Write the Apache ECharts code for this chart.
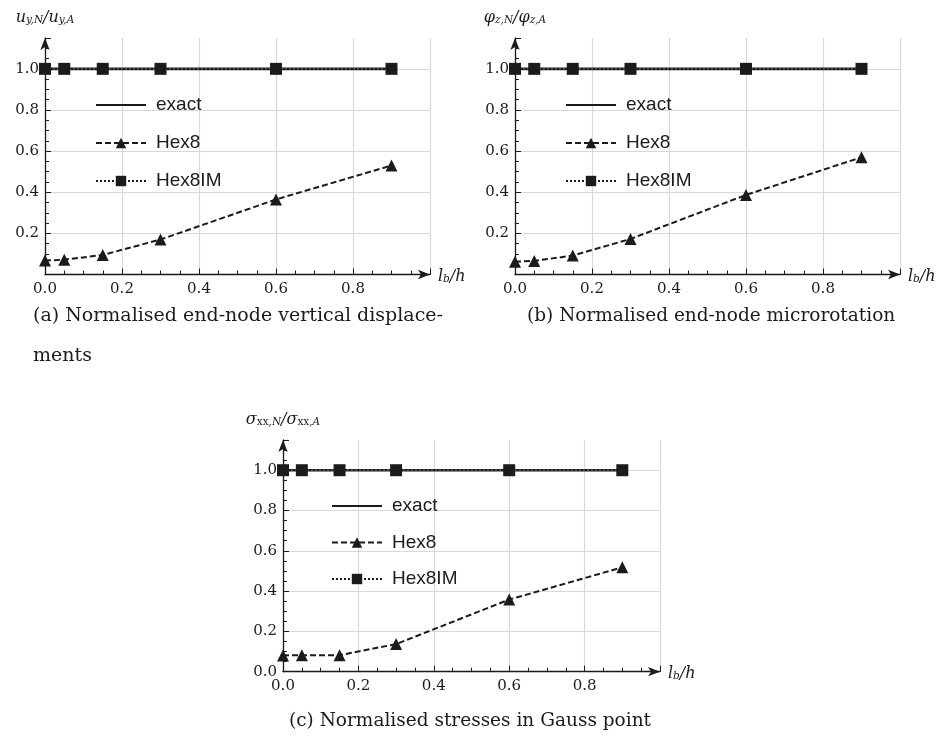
<!DOCTYPE html>
<html>
<head>
<meta charset="utf-8">
<script src="https://cdn.jsdelivr.net/npm/echarts@6/dist/echarts.min.js"></script>
<style>
html,body{margin:0;padding:0;background:#fff;}
#chart{width:937px;height:737px;}
</style>
</head>
<body>
<div id="chart"></div>
<script>
// ---- data ----
const xValues = [0, 0.05, 0.15, 0.3, 0.6, 0.9];
const exactValues = [1, 1, 1, 1, 1, 1];
const hex8IMValues = [1, 1, 1, 1, 1, 1];
const hex8ValuesA = [0.068, 0.072, 0.095, 0.17, 0.365, 0.53];
const hex8ValuesB = [0.062, 0.066, 0.092, 0.173, 0.387, 0.57];
const hex8ValuesC = [0.081, 0.082, 0.082, 0.137, 0.358, 0.518];
const seriesNames = ['exact', 'Hex8', 'Hex8IM'];
const captions = [
  '(a) Normalised end-node vertical displace-\nments',
  '(b) Normalised end-node microrotation',
  '(c) Normalised stresses in Gauss point'
];
const xTickInterval = 0.2;
const yTickInterval = 0.2;

const INK = '#1b1b1b';
const GRID = '#d9d9d9';

function pairs(xs, ys) { return xs.map((x, i) => [x, ys[i]]); }

const richName = {
  i: { fontFamily: 'DejaVu Serif', fontStyle: 'italic', fontSize: 16, color: INK, lineHeight: 20, verticalAlign: 'bottom' },
  r: { fontFamily: 'DejaVu Serif', fontSize: 16, color: INK, lineHeight: 20, verticalAlign: 'bottom' },
  s: { fontFamily: 'DejaVu Serif', fontStyle: 'italic', fontSize: 10.5, color: INK, lineHeight: 13, verticalAlign: 'bottom' },
  sr: { fontFamily: 'DejaVu Serif', fontSize: 10.5, color: INK, lineHeight: 13, verticalAlign: 'bottom' }
};

const yNames = [
  '{i|u}{s|y,N}{i|/u}{s|y,A}',
  '{i|φ}{s|z,N}{i|/φ}{s|z,A}',
  '{i|σ}{sr|xx,}{s|N}{i|/σ}{sr|xx,}{s|A}'
];

const grids = [
  { left: 45, top: 38, width: 385, height: 236.5 },
  { left: 515, top: 38, width: 385, height: 236.5 },
  { left: 283, top: 440, width: 377, height: 231.7 }
];

const xAxes = [], yAxes = [], series = [], legends = [], titles = [];
const hex8Sets = [hex8ValuesA, hex8ValuesB, hex8ValuesC];
const legendPos = [
  { left: 95, top: 95.5, itemGap: 19 },
  { left: 565, top: 95.5, itemGap: 19 },
  { left: 331, top: 496.5, itemGap: 17.5 }
];
const captionPos = [
  { left: 33, top: 296, size: 19 },
  { left: 527, top: 296, size: 18.5 },
  { left: 289, top: 701, size: 18.5 }
];

for (let k = 0; k < 3; k++) {
  xAxes.push({
    gridIndex: k, type: 'value', min: 0, max: 1.0, interval: xTickInterval,
    name: '{i|l}{s|b}{i|/h}', nameLocation: 'end', nameGap: 8,
    nameTextStyle: { rich: richName },
    axisLine: { show: true, onZero: false, symbol: ['none', 'arrow'], symbolSize: [7, 12], symbolOffset: [0, 0],
      lineStyle: { color: INK, width: 1.3 } },
    axisTick: { show: true, inside: true, length: 6, lineStyle: { color: INK, width: 1 } },
    minorTick: { show: true, splitNumber: 4, length: 4, lineStyle: { color: INK, width: 1 } },
    splitLine: { show: true, lineStyle: { color: GRID, width: 1.2 } },
    axisLabel: { showMaxLabel: false, margin: 7, color: INK, fontFamily: 'DejaVu Serif', fontSize: 15,
      formatter: v => v.toFixed(1) }
  });
  yAxes.push({
    gridIndex: k, type: 'value', min: 0, max: 1.15, interval: yTickInterval,
    name: yNames[k], nameLocation: 'end', nameGap: 12,
    nameTextStyle: { rich: richName },
    axisLine: { show: true, onZero: false, symbol: ['none', 'arrow'], symbolSize: [7, 12], symbolOffset: [0, 0],
      lineStyle: { color: INK, width: 1.3 } },
    axisTick: { show: true, inside: true, length: 6, lineStyle: { color: INK, width: 1 } },
    minorTick: { show: true, splitNumber: 4, length: 4, lineStyle: { color: INK, width: 1 } },
    splitLine: { show: true, lineStyle: { color: [GRID, GRID, GRID, GRID, GRID, GRID, 'rgba(0,0,0,0)'], width: 1.2 } },
    axisLabel: { showMinLabel: k === 2, showMaxLabel: false, margin: 6, color: INK, fontFamily: 'DejaVu Serif', fontSize: 15,
      formatter: v => v.toFixed(1) }
  });
  series.push({
    name: 'exact', type: 'line', xAxisIndex: k, yAxisIndex: k,
    data: pairs(xValues, exactValues), symbol: 'none',
    lineStyle: { color: INK, width: 2.6, type: 'solid' }, itemStyle: { color: INK },
    z: 3, silent: true, animation: false
  });
  series.push({
    name: 'Hex8', type: 'line', xAxisIndex: k, yAxisIndex: k,
    data: pairs(xValues, hex8Sets[k]), symbol: 'triangle', symbolSize: 12,
    lineStyle: { color: INK, width: 2, type: [6, 3] }, itemStyle: { color: INK },
    z: 4, silent: true, animation: false
  });
  series.push({
    name: 'Hex8IM', type: 'line', xAxisIndex: k, yAxisIndex: k,
    data: pairs(xValues, hex8IMValues), symbol: 'rect', symbolSize: 12,
    lineStyle: { color: '#555', width: 1.5, type: [2, 2] }, itemStyle: { color: INK },
    z: 5, silent: true, animation: false
  });
  legends.push({
    show: true, orient: 'vertical', left: legendPos[k].left, top: legendPos[k].top,
    itemGap: legendPos[k].itemGap, itemWidth: 50, itemHeight: 13, padding: 0,
    selectedMode: false,
    lineStyle: { width: 2, color: INK },
    textStyle: { fontFamily: 'Liberation Sans', fontSize: 19, color: INK, padding: [0, 0, 0, 5] },
    data: [
      { name: 'exact', itemStyle: { opacity: 0 } },
      { name: 'Hex8' },
      { name: 'Hex8IM' }
    ]
  });
  titles.push({
    text: captions[k], left: captionPos[k].left, top: captionPos[k].top, padding: 0,
    textStyle: { fontFamily: 'DejaVu Serif', fontWeight: 'normal', fontSize: captionPos[k].size, color: INK, lineHeight: 40 }
  });
}

const chart = echarts.init(document.getElementById('chart'), null, { renderer: 'canvas' });
chart.setOption({
  backgroundColor: '#fff',
  animation: false,
  title: titles,
  legend: legends,
  grid: grids,
  xAxis: xAxes,
  yAxis: yAxes,
  series: series
});
</script>
</body>
</html>
